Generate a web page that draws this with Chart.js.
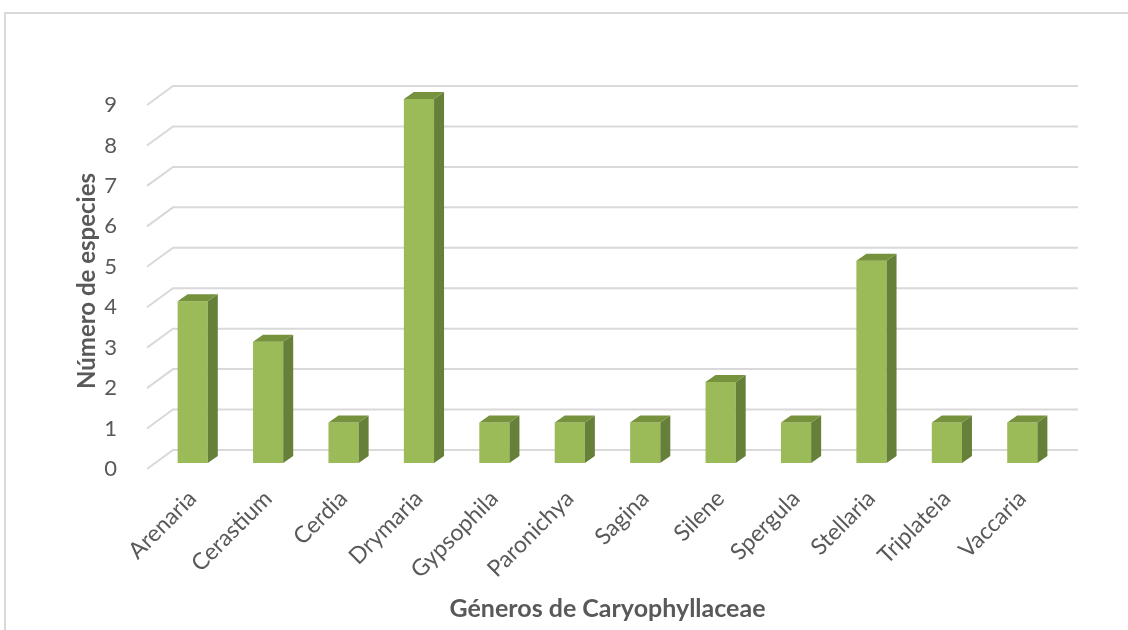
<!DOCTYPE html>
<html>
<head>
<meta charset="utf-8">
<script src="https://cdn.jsdelivr.net/npm/chart.js@4/dist/chart.umd.min.js"></script>
<style>
  html, body { margin: 0; padding: 0; background: #fff; }
  #wrap { position: relative; width: 1128px; height: 630px; }
  #frame { position: absolute; left: 4px; top: 12px; right: 0; bottom: 0;
           border-top: 2px solid #d9d9d9; border-left: 2px solid #d9d9d9; }
  canvas { position: absolute; left: 0; top: 0; }
</style>
</head>
<body>
<div id="wrap">
  <div id="frame"></div>
  <canvas id="chart" width="1128" height="630"></canvas>
</div>
<script>
const generos = ['Arenaria', 'Cerastium', 'Cerdia', 'Drymaria', 'Gypsophila', 'Paronichya',
                 'Sagina', 'Silene', 'Spergula', 'Stellaria', 'Triplateia', 'Vaccaria'];
const especies = [4, 3, 1, 9, 1, 1, 1, 2, 1, 5, 1, 1];
const yTicks = [0, 1, 2, 3, 4, 5, 6, 7, 8, 9];

const textColor = '#595959';
const fontFamily = 'Lato, "Open Sans", sans-serif';
const depthX = 10, depthY = -7;

// fondo 3D: líneas de cuadrícula con el tramo inclinado del suelo
const grid3d = {
    id: 'grid3d',
    beforeDatasetsDraw(chart) {
        const { ctx, chartArea, scales: { y } } = chart;
        ctx.save();
        ctx.strokeStyle = '#d9d9d9';
        ctx.lineWidth = 2;
        yTicks.forEach(v => {
            const py = y.getPixelForValue(v);
            ctx.beginPath();
            ctx.moveTo(chartArea.left - 8, py + 6);
            ctx.lineTo(chartArea.left + 18, py - 13);
            ctx.lineTo(chartArea.right + 18, py - 13);
            ctx.stroke();
        });
        ctx.restore();
    }
};

// caras lateral y superior de cada barra
const bars3d = {
    id: 'bars3d',
    afterDatasetsDraw(chart) {
        const { ctx } = chart;
        ctx.save();
        chart.getDatasetMeta(0).data.forEach(bar => {
            const l = bar.x - bar.width / 2, r = bar.x + bar.width / 2;
            ctx.fillStyle = '#66803a';
            ctx.beginPath();
            ctx.moveTo(r, bar.y);
            ctx.lineTo(r + depthX, bar.y + depthY);
            ctx.lineTo(r + depthX, bar.base + depthY);
            ctx.lineTo(r, bar.base);
            ctx.closePath();
            ctx.fill();
            ctx.fillStyle = '#76923c';
            ctx.beginPath();
            ctx.moveTo(l, bar.y);
            ctx.lineTo(l + depthX, bar.y + depthY);
            ctx.lineTo(r + depthX, bar.y + depthY);
            ctx.lineTo(r, bar.y);
            ctx.closePath();
            ctx.fill();
        });
        ctx.restore();
    }
};

const ctx = document.getElementById('chart').getContext('2d');
new Chart(ctx, {
    type: 'bar',
    data: {
        labels: generos,
        datasets: [{
            data: especies,
            backgroundColor: '#9bbb59',
            borderWidth: 0,
            barPercentage: 0.8,
            categoryPercentage: 0.5
        }]
    },
    options: {
        responsive: false,
        animation: false,
        layout: { padding: { left: 0, top: 99, right: 68, bottom: 0 } },
        plugins: { legend: { display: false }, tooltip: { enabled: false } },
        scales: {
            x: {
                grid: { display: false },
                border: { display: false },
                afterFit: s => { s.height = 167; },
                ticks: {
                    color: textColor,
                    font: { family: fontFamily, size: 23 },
                    minRotation: 45, maxRotation: 45,
                    padding: 14
                },
                title: {
                    display: true,
                    text: 'Géneros de Caryophyllaceae',
                    color: textColor,
                    font: { family: fontFamily, size: 25, weight: 'bold' },
                    padding: { top: 0, bottom: 6 }
                }
            },
            y: {
                min: 0, max: 9,
                afterFit: s => { s.width = 155; },
                afterBuildTicks: s => { s.ticks = yTicks.map(v => ({ value: v })); },
                grid: { display: false },
                border: { display: false },
                ticks: {
                    color: textColor,
                    font: { family: fontFamily, size: 22 },
                    padding: 30,
                    labelOffset: 6
                },
                title: {
                    display: true,
                    text: 'Número de especies',
                    color: textColor,
                    font: { family: fontFamily, size: 24, weight: 'bold' },
                    padding: { top: 73, bottom: 0 }
                }
            }
        }
    },
    plugins: [grid3d, bars3d]
});
</script>
</body>
</html>
